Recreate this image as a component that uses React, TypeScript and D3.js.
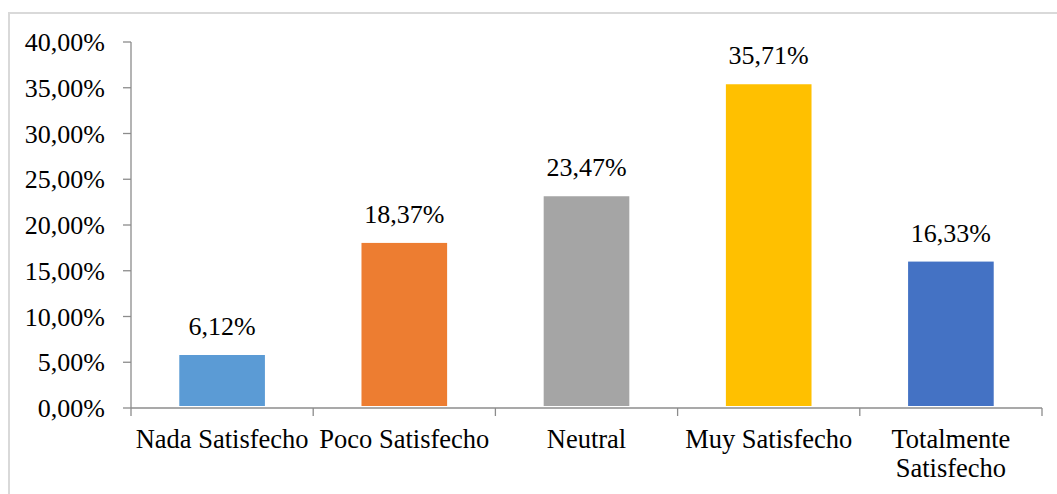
import React from 'react';
import * as d3 from 'd3';

const categories = ['Nada Satisfecho', 'Poco Satisfecho', 'Neutral', 'Muy Satisfecho', 'Totalmente Satisfecho'];
const values = [6.12, 18.37, 23.47, 35.71, 16.33];
const colors = ['#5B9BD5', '#ED7D31', '#A5A5A5', '#FFC000', '#4472C4'];
const yTicks = [0, 5, 10, 15, 20, 25, 30, 35, 40];

// wrapped label lines for the x axis
const labelLines: Record<string, string[]> = {
  'Totalmente Satisfecho': ['Totalmente', 'Satisfecho'],
};

const fmt = (v: number) => v.toFixed(2).replace('.', ',') + '%';

export default function App() {
  const width = 1057;
  const height = 494;
  const left = 131;
  const right = 1042;
  const top = 42;
  const bottom = 408;
  const font = '"Liberation Serif", "Times New Roman", serif';
  const axisColor = '#8c8c8c';

  const x = d3.scaleBand().domain(categories).range([left, right]).paddingInner(0.53).paddingOuter(0.265);
  const y = d3.scaleLinear().domain([0, 40]).range([bottom, top]);
  const step = x.step();

  return (
    <svg width={width} height={height} style={{ position: 'absolute', left: 0, top: 0, background: '#fff' }} fontFamily={font}>
      <rect x={9} y={13} width={width + 20} height={height + 20} fill="#fff" stroke="#d9d9d9" strokeWidth={2} />

      {/* y axis */}
      <line x1={left} x2={left} y1={top} y2={bottom} stroke={axisColor} strokeWidth={1.3} />
      {yTicks.map((t) => (
        <g key={t}>
          <line x1={left - 8} x2={left} y1={y(t)} y2={y(t)} stroke={axisColor} strokeWidth={1.3} />
          <text x={105} y={y(t)} dy="0.35em" textAnchor="end" fontSize={26} fill="#000">
            {t.toFixed(2).replace('.', ',') + '%'}
          </text>
        </g>
      ))}

      {/* bars */}
      {categories.map((c, i) => {
        const yt = y(values[i]) + 3;
        return (
          <g key={c}>
            <rect x={x(c)!} y={yt} width={x.bandwidth()} height={y(0) - 2 - yt} fill={colors[i]} />
            <text x={x(c)! + x.bandwidth() / 2} y={yt - 20} textAnchor="middle" fontSize={26} fill="#000">
              {fmt(values[i])}
            </text>
          </g>
        );
      })}

      {/* x axis */}
      <line x1={left} x2={right} y1={bottom} y2={bottom} stroke={axisColor} strokeWidth={1.3} />
      {d3.range(categories.length + 1).map((k) => (
        <line key={k} x1={left + k * step} x2={left + k * step} y1={bottom} y2={bottom + 8} stroke={axisColor} strokeWidth={1.3} />
      ))}
      {categories.map((c) => {
        const lines = labelLines[c] ?? [c];
        return (
          <text key={c} x={x(c)! + x.bandwidth() / 2} y={448} textAnchor="middle" fontSize={26.5} fill="#000">
            {lines.map((l, j) => (
              <tspan key={j} x={x(c)! + x.bandwidth() / 2} dy={j === 0 ? 0 : 29}>
                {l}
              </tspan>
            ))}
          </text>
        );
      })}
    </svg>
  );
}
